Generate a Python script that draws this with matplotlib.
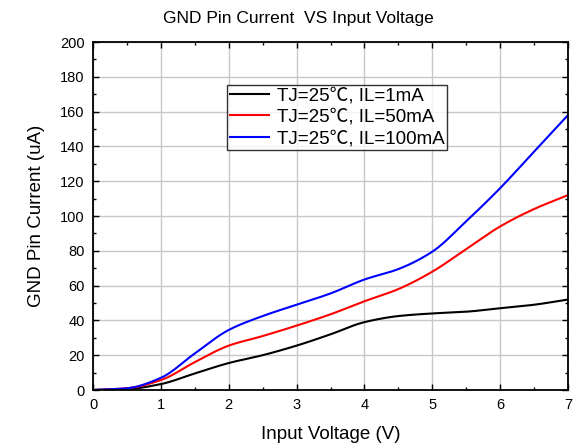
import numpy as np
import matplotlib
matplotlib.use('Agg')
import matplotlib.pyplot as plt
from matplotlib.ticker import MultipleLocator

plt.rcParams['font.family'] = ['Liberation Sans', 'Noto Sans CJK SC', 'DejaVu Sans']

# values
vin = [0, 0.5, 1, 1.5, 2, 2.5, 3, 3.5, 4, 4.5, 5, 5.5, 6, 6.5, 7]
i_1ma = [0, 0.5, 3.4, 9.5, 15.5, 20, 25.5, 32, 39, 42.5, 44, 45, 47, 49, 52]
i_50ma = [0, 1, 5.7, 16, 25.5, 31, 37, 43.5, 51, 58, 68, 81, 94, 104, 112]
i_100ma = [0, 1, 7, 21, 34.5, 42.5, 49, 55.5, 63.5, 69.5, 79.5, 97, 116, 137, 158]

labels = ['TJ=25\u2103, IL=1mA', 'TJ=25\u2103, IL=50mA', 'TJ=25\u2103, IL=100mA']
colors = ['black', 'red', 'blue']


def smooth(x, y, n=300):
    # monotone cubic (PCHIP) through the read points
    x = np.asarray(x, float)
    y = np.asarray(y, float)
    h = np.diff(x)
    d = np.diff(y) / h
    m = np.zeros_like(y)
    for k in range(1, len(x) - 1):
        if d[k - 1] * d[k] > 0:
            w1 = 2 * h[k] + h[k - 1]
            w2 = h[k] + 2 * h[k - 1]
            m[k] = (w1 + w2) / (w1 / d[k - 1] + w2 / d[k])
    m[0] = d[0]
    m[-1] = d[-1]
    xs = np.linspace(x[0], x[-1], n)
    idx = np.clip(np.searchsorted(x, xs) - 1, 0, len(x) - 2)
    t = (xs - x[idx]) / h[idx]
    h00 = 2 * t**3 - 3 * t**2 + 1
    h10 = t**3 - 2 * t**2 + t
    h01 = -2 * t**3 + 3 * t**2
    h11 = t**3 - t**2
    ys = h00 * y[idx] + h10 * h[idx] * m[idx] + h01 * y[idx + 1] + h11 * h[idx] * m[idx + 1]
    return xs, ys


fig = plt.figure(figsize=(5.79, 4.44), dpi=100)
ax = fig.add_axes([93 / 579, 1 - 390 / 444, 475 / 579, 348 / 444])

for ys, c, lab in zip([i_1ma, i_50ma, i_100ma], colors, labels):
    sx, sy = smooth(vin, ys)
    ax.plot(sx, sy, color=c, lw=1.5, label=lab)

ax.set_xlim(0, 7)
ax.set_ylim(0, 200)
ax.xaxis.set_major_locator(MultipleLocator(1))
ax.xaxis.set_minor_locator(MultipleLocator(0.5))
ax.yaxis.set_major_locator(MultipleLocator(20))
ax.yaxis.set_minor_locator(MultipleLocator(10))
ax.tick_params(which='both', direction='in', top=True, right=True, labelsize=10.5)
ax.tick_params(which='major', length=4, width=1, pad=6)
ax.tick_params(which='minor', length=2.5, width=1)
ax.grid(True, which='major', color='#c8c8c8', lw=1)
ax.set_axisbelow(True)
for s in ax.spines.values():
    s.set_linewidth(1.3)

fig.text(298 / 579, 1 - 18 / 444, 'GND Pin Current  VS Input Voltage',
         fontsize=12.5, ha='center', va='center')
ax.set_xlabel('Input Voltage (V)', fontsize=13.5, labelpad=10)
ax.set_ylabel('GND Pin Current (uA)', fontsize=13.5, labelpad=11)

leg = ax.legend(loc='upper left', bbox_to_anchor=(0.282, 0.877), fontsize=13.5,
                frameon=True, fancybox=False, borderpad=0.15, handlelength=2.1,
                handletextpad=0.4, labelspacing=0.22, borderaxespad=0)
leg.get_frame().set_edgecolor('black')
leg.get_frame().set_linewidth(1)

fig.savefig('out.png', dpi=100)
